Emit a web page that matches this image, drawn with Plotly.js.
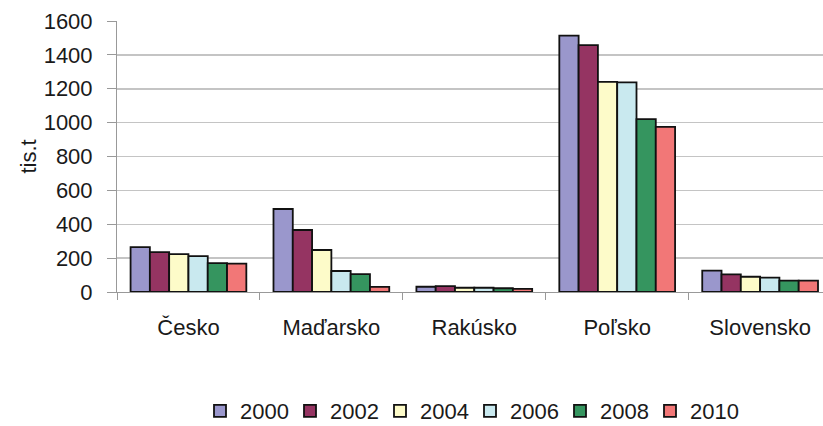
<!DOCTYPE html>
<html><head><meta charset="utf-8">
<script src="https://cdn.plot.ly/plotly-3.0.1.min.js"></script>
<style>html,body{margin:0;padding:0;overflow:hidden;background:#fff}</style>
</head><body><div id="chart" style="width:823px;height:426px"></div>
<script>
const categories = ["Česko", "Maďarsko", "Rakúsko", "Poľsko", "Slovensko"];
const years = ["2000", "2002", "2004", "2006", "2008", "2010"];
const v2000 = [265, 490, 31, 1514, 126];
const v2002 = [236, 366, 35, 1457, 104];
const v2004 = [224, 248, 25, 1241, 90];
const v2006 = [212, 124, 25, 1238, 85];
const v2008 = [171, 106, 22, 1021, 67];
const v2010 = [168, 30, 19, 975, 67];
const series = [v2000, v2002, v2004, v2006, v2008, v2010];
const colors = ["#9a97cc", "#953462", "#fdfbc9", "#c9e9ef", "#35955f", "#f27777"];

const traces = series.map((vals, i) => ({
  type: "bar", name: years[i], x: categories, y: vals,
  marker: {color: colors[i], line: {color: "#111", width: 1.8}}
}));

const font = {family: "Liberation Sans, Arial, sans-serif", color: "#1a1a1a"};
Plotly.newPlot("chart", traces, {
  width: 823, height: 426,
  margin: {l: 117, r: 0, t: 21, b: 134},
  paper_bgcolor: "#fff", plot_bgcolor: "#fff",
  font: font,
  barmode: "group", bargap: 0.19, bargroupgap: 0,
  xaxis: {
    range: [-0.5, 4.44], showline: true, linecolor: "#999", linewidth: 1,
    tickson: "boundaries", ticks: "outside", ticklen: 7, tickcolor: "#999",
    tickfont: {size: 22, color: "#1a1a1a"}, showgrid: false, zeroline: false,
    ticklabelstandoff: 16
  },
  yaxis: {
    range: [0, 1600], dtick: 200, showline: true, linecolor: "#999", linewidth: 1,
    ticks: "outside", ticklen: 9, tickcolor: "#999",
    gridcolor: "#c4c4c4", gridwidth: 1.5, zeroline: false,
    tickfont: {size: 22, color: "#1a1a1a"}, ticklabelstandoff: 10,
    title: {text: "tis.t", font: {size: 22, color: "#1a1a1a"}, standoff: 0}
  },
  legend: {
    orientation: "h", x: 0.5, xanchor: "center",
    yref: "container", y: 0.035, yanchor: "middle",
    font: {size: 22, color: "#1a1a1a"}, itemwidth: 30, tracegroupgap: 0,
    entrywidth: 45, entrywidthmode: "pixels"
  },
  showlegend: true
}, {displayModeBar: false, staticPlot: true});
</script></body></html>
